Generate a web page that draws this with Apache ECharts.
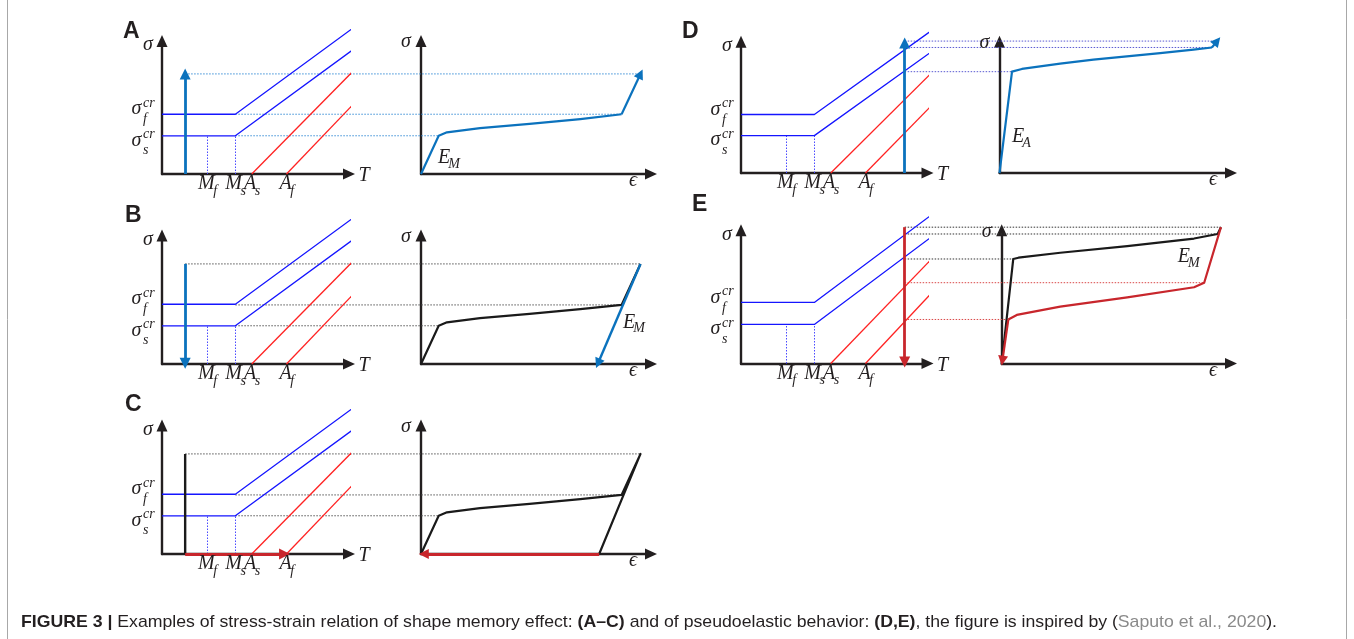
<!DOCTYPE html>
<html>
<head>
<meta charset="utf-8">
<script src="https://cdn.jsdelivr.net/npm/echarts@6.0.0/dist/echarts.min.js"></script>
<style>
html,body{margin:0;padding:0;background:#ffffff;}
#chart{width:1354px;height:639px;}
</style>
</head>
<body>
<div id="chart"></div>
<script>
// ================= DATA (diagram units) =================
// Phase diagram T–σ (same in all five panels)
const PHASE_SIGMA_F = [[0, 4.3], [3.8, 4.3], [9.9, 10.5]];
const PHASE_SIGMA_S = [[0, 2.75], [3.8, 2.75], [9.9, 8.95]];
const PHASE_AS = [[4.65, 0], [9.9, 7.4]];
const PHASE_AF = [[6.45, 0], [9.9, 5.0]];
const T_TICK_VALUES = [2.35, 3.8, 4.65, 6.45];
const T_TICK_LABELS = [['M', 'f'], ['M', 's'], ['A', 's'], ['A', 'f']];
const SIGMA_CR_VALUES = [4.3, 2.75];
const SIGMA_CR_LABELS = ['f', 's'];
const MARTENSITE_DROPS = [2.35, 3.8];

// Panel A
const A_T_PATH = [[1.2, 0], [1.2, 7.2]];
const A_CURVE = [[0, 0], [0.75, 2.75], [1.1, 3.0], [2.5, 3.3], [4.6, 3.6], [6.75, 3.95], [8.5, 4.3]];
const A_CURVE_ARROW = [[8.5, 4.3], [9.3, 7.2]];
const A_GUIDES = [[1.2, 9.3, 7.2], [3.8, 8.5, 4.3], [3.8, 0.75, 2.75]]; // [T from, ε to, σ]
// Panel B
const B_T_PATH = [[1.2, 7.2], [1.2, 0.05]];
const B_CURVE = [[0, 0], [0.75, 2.75], [1.1, 3.0], [2.5, 3.3], [4.6, 3.6], [6.75, 3.95], [8.5, 4.25], [9.3, 7.2]];
const B_CURVE_ARROW = [[9.3, 7.2], [7.5, 0.05]];
const B_GUIDES = [[1.2, 9.3, 7.2], [3.8, 8.5, 4.25], [3.8, 0.75, 2.75]];
// Panel C
const C_T_LINE = [[1.2, 7.2], [1.2, 0]];
const C_T_ARROW = [[1.2, 0], [6.35, 0]];
const C_CURVE = [[0, 0], [0.75, 2.75], [1.1, 3.0], [2.5, 3.3], [4.6, 3.6], [6.75, 3.95], [8.5, 4.25], [9.3, 7.2], [7.55, 0]];
const C_CURVE_ARROW = [[7.55, 0], [0.12, 0]];
const C_GUIDES = [[1.2, 9.3, 7.2], [3.8, 8.5, 4.25], [3.8, 0.75, 2.75]];
// Panel D
const D_T_PATH = [[8.48, 0], [8.48, 9.55]];
const D_CURVE = [[0, 0], [0.53, 7.45], [0.95, 7.65], [2.57, 8.04], [3.98, 8.33], [6.81, 8.82], [8.22, 9.07], [9.0, 9.23]];
const D_CURVE_ARROW = [[9.0, 9.23], [9.22, 9.7]];
const D_GUIDES = [[8.48, 9.3, 9.7], [8.48, 9.05, 9.23], [8.48, 0.53, 7.45]];
// Panel E
const E_T_PATH = [[8.48, 9.6], [8.48, 0.1]];
const E_LOAD = [[0, 0], [0.49, 7.36], [0.71, 7.45], [2.48, 7.8], [5.32, 8.27], [8.15, 8.8], [9.15, 9.12], [9.29, 9.6]];
const E_UNLOAD = [[9.29, 9.6], [8.58, 5.69], [8.15, 5.37], [5.32, 4.66], [2.48, 4.0], [0.64, 3.42], [0.28, 3.1]];
const E_UNLOAD_ARROW = [[0.28, 3.1], [0.03, 0.2]];
const E_GUIDES_BLACK = [[8.48, 9.29, 9.6], [8.48, 9.15, 9.12], [8.48, 0.49, 7.36]];
const E_GUIDES_RED = [[8.48, 8.58, 5.69], [8.48, 0.28, 3.1]];

const PANEL_LETTERS = ['A', 'B', 'C', 'D', 'E'];
const CAPTION_PARTS = [
  ['FIGURE 3 | ', 'b'], ['Examples of stress-strain relation of shape memory effect: ', 'n'],
  ['(A\u2013C)', 'b'], [' and of pseudoelastic behavior: ', 'n'], ['(D,E)', 'b'],
  [', the figure is inspired by (', 'n'], ['Saputo et al., 2020', 'g'], [').', 'n']
];

// ================= LAYOUT / STYLE =================
// oy: x-axis y, top: y-axis arrow tip, lx/rx: y-axis x, lTip/rTip: x-axis arrow tips, sy: px per σ unit
const LAYOUT = [
  {oy: 174, top: 35, lx: 162, lTip: 355, rx: 421, rTip: 657, sy: 13.9},
  {oy: 364, top: 229.5, lx: 162, lTip: 355, rx: 421, rTip: 657, sy: 13.9},
  {oy: 554, top: 419.5, lx: 162, lTip: 355, rx: 421, rTip: 657, sy: 13.9},
  {oy: 173, top: 35.7, lx: 741, lTip: 933.5, rx: 999.5, rTip: 1237, sy: 13.6},
  {oy: 363.5, top: 224.3, lx: 741, lTip: 933.5, rx: 1001.7, rTip: 1237, sy: 14.2}
];
const LETTER_POS = [[123, 31.5], [125, 215.3], [125, 405], [682, 31.7], [692, 205]];
// modulus labels anchored in the right diagram's data space: [row, ε, σ, subscript]
const MODULUS_LABELS = [[0, 0.72, 1.15, 'M'], [1, 8.56, 3.0, 'M'], [3, 0.53, 2.65, 'A'], [4, 7.46, 7.5, 'M']];
const PX_PER_T = 19.3, PX_PER_EPS = 23.6, HALF_ARROW = 6;

const INK = '#231f20';
const BLUE = '#1515ff', RED = '#ff2222', ARROW_BLUE = '#0b72bd', DARK_RED = '#c8262c', BLACK = '#1a1a1a';
const GUIDE_COLORS = ['#3b8fd6', '#555555', '#555555', '#5a5ad2', '#333333'];

const chart = echarts.init(document.getElementById('chart'), null, {renderer: 'canvas'});
const grids = [], xAxes = [], yAxes = [], series = [];

function axisOpt(g, max) {
  return {gridIndex: g, type: 'value', min: 0, max: max,
    axisLine: {show: true, onZero: false, symbol: ['none', 'triangle'], symbolSize: [11, 12], lineStyle: {color: INK, width: 2.4}},
    axisTick: {show: false}, axisLabel: {show: false}, splitLine: {show: false}};
}
LAYOUT.forEach((L, r) => {
  const top = L.top + HALF_ARROW, h = L.oy - top;
  const wl = L.lTip - HALF_ARROW - L.lx, wr = L.rTip - HALF_ARROW - L.rx;
  grids.push({left: L.lx, top: top, width: wl, height: h, outerBoundsMode: 'none'},
             {left: L.rx, top: top, width: wr, height: h, outerBoundsMode: 'none'});
  xAxes.push(axisOpt(2 * r, wl / PX_PER_T), axisOpt(2 * r + 1, wr / PX_PER_EPS));
  yAxes.push(axisOpt(2 * r, h / L.sy), axisOpt(2 * r + 1, h / L.sy));
});

function poly(g, data, color, width, z) {
  return {type: 'line', xAxisIndex: g, yAxisIndex: g, data: data, symbol: 'none', showSymbol: false,
    clip: false, silent: true, animation: false, z: z || 3,
    lineStyle: {color: color, width: width, join: 'round', cap: 'butt'}};
}
function arrow(g, data, color, width, size) {
  return {type: 'lines', coordinateSystem: 'cartesian2d', xAxisIndex: g, yAxisIndex: g,
    data: [{coords: data}], symbol: ['none', 'triangle'], symbolSize: size || [9, 11],
    clip: false, silent: true, animation: false, z: 5,
    lineStyle: {color: color, width: width, opacity: 1, curveness: 0}};
}
function dottedSegs(g, segs, color) {
  return {type: 'lines', coordinateSystem: 'cartesian2d', xAxisIndex: g, yAxisIndex: g,
    data: segs.map(s => ({coords: s})), symbol: 'none', clip: false, silent: true, animation: false, z: 2,
    lineStyle: {color: color, width: 1, opacity: 1, type: [1.5, 1.5]}};
}

// phase diagrams
LAYOUT.forEach((L, r) => {
  const g = 2 * r;
  series.push(poly(g, PHASE_SIGMA_F, BLUE, 1.3), poly(g, PHASE_SIGMA_S, BLUE, 1.3),
              poly(g, PHASE_AS, RED, 1.3), poly(g, PHASE_AF, RED, 1.3));
  series.push(dottedSegs(g, MARTENSITE_DROPS.map(t => [[t, 0], [t, SIGMA_CR_VALUES[1]]]), '#4a4aff'));
});
// Panel A
series.push(arrow(0, A_T_PATH, ARROW_BLUE, 2.8), poly(1, A_CURVE, ARROW_BLUE, 2.2), arrow(1, A_CURVE_ARROW, ARROW_BLUE, 2.2, [8, 10]));
// Panel B
series.push(arrow(2, B_T_PATH, ARROW_BLUE, 2.8), poly(3, B_CURVE, BLACK, 2.2), arrow(3, B_CURVE_ARROW, ARROW_BLUE, 2.4, [8, 10]));
// Panel C
series.push(poly(4, C_T_LINE, BLACK, 2.4), arrow(4, C_T_ARROW, DARK_RED, 2.8), poly(5, C_CURVE, BLACK, 2.2), arrow(5, C_CURVE_ARROW, DARK_RED, 2.8, [8, 10]));
// Panel D
series.push(arrow(6, D_T_PATH, ARROW_BLUE, 2.8), poly(7, D_CURVE, ARROW_BLUE, 2.2), arrow(7, D_CURVE_ARROW, ARROW_BLUE, 2.2, [8, 10]));
// Panel E
series.push(arrow(8, E_T_PATH, DARK_RED, 2.8), poly(9, E_LOAD, BLACK, 2.2), poly(9, E_UNLOAD, DARK_RED, 2.2, 4), arrow(9, E_UNLOAD_ARROW, DARK_RED, 2.2, [8, 10]));

chart.setOption({
  animation: false,
  backgroundColor: '#ffffff',
  grid: grids, xAxis: xAxes, yAxis: yAxes, series: series
});

// ---------- text & cross-diagram guides, positioned through the axes ----------
const mc = document.createElement('canvas').getContext('2d');
function measure(s, f) { mc.font = f; return mc.measureText(s).width; }
const SERIF = "'Liberation Serif','DejaVu Serif',serif";
const F_MAIN = 'italic 20px ' + SERIF, F_SMALL = 'italic 14px ' + SERIF;
const gfx = [];
function put(x, y, s, f, align, color, z) {
  gfx.push({type: 'text', x: x, y: y, z: z || 100, silent: true,
    style: {text: s, font: f, fill: color || INK, align: align || 'left', textAlign: align || 'left',
            verticalAlign: 'middle', textVerticalAlign: 'middle'}});
}
function px(g, p) { return chart.convertToPixel({gridIndex: g}, p); }

LAYOUT.forEach((L, r) => {
  const gl = 2 * r;
  // axis names
  put(L.lx - 14, L.top + 10, '\u03c3', F_MAIN, 'center');
  put(L.lTip + 9, L.oy + 2, 'T', F_MAIN, 'center');
  put(L.rx - 15, L.top + 7, '\u03c3', F_MAIN, 'center');
  put(L.rTip - 24, L.oy + 7, '\u03f5', F_MAIN, 'center');
  // T ticks
  T_TICK_VALUES.forEach((t, i) => {
    const p = px(gl, [t, 0]);
    const m = T_TICK_LABELS[i][0], s = T_TICK_LABELS[i][1];
    const wm = measure(m, F_MAIN), ws = measure(s, F_SMALL);
    const left = p[0] - (wm + ws) / 2 + 1;
    put(left, p[1] + 10, m, F_MAIN);
    put(left + wm - 1.5, p[1] + 17, s, F_SMALL);
  });
  // σ critical labels
  SIGMA_CR_VALUES.forEach((v, i) => {
    const p = px(gl, [0, v]);
    const d = i === 0 ? 0 : 9.5;
    put(p[0] - 25.5, p[1] - 5 + d, '\u03c3', F_MAIN, 'center');
    put(p[0] - 19, p[1] - 11 + d, 'cr', F_SMALL);
    put(p[0] - 19, p[1] + 5.5 + d, SIGMA_CR_LABELS[i], F_SMALL);
  });
  // panel letter
  put(LETTER_POS[r][0], LETTER_POS[r][1], PANEL_LETTERS[r], "bold 23px 'Liberation Sans',Arial,sans-serif");
});
MODULUS_LABELS.forEach(m => {
  const p = px(2 * m[0] + 1, [m[1], m[2]]);
  const we = measure('E', F_MAIN);
  put(p[0], p[1], 'E', F_MAIN);
  put(p[0] + we - 2, p[1] + 6, m[3], F_SMALL);
});
function guides(r, list, color) {
  list.forEach(gd => {
    const a = px(2 * r, [gd[0], gd[2]]), b = px(2 * r + 1, [gd[1], gd[2]]);
    gfx.push({type: 'line', z: 1, silent: true, shape: {x1: a[0], y1: a[1], x2: b[0], y2: a[1]},
      style: {stroke: color, lineWidth: 1, lineDash: [1.5, 1.5]}});
  });
}
guides(0, A_GUIDES, GUIDE_COLORS[0]);
guides(1, B_GUIDES, GUIDE_COLORS[1]);
guides(2, C_GUIDES, GUIDE_COLORS[2]);
guides(3, D_GUIDES, GUIDE_COLORS[3]);
guides(4, E_GUIDES_BLACK, GUIDE_COLORS[4]);
guides(4, E_GUIDES_RED, '#d94848');

// caption (condensed sans imitated by horizontal scaling)
const SANS = "'Liberation Sans',Arial,sans-serif";
const CAP_SIZE = 17;
let capW = 0;
CAPTION_PARTS.forEach(p => { capW += measure(p[0], (p[1] === 'b' ? 'bold ' : '') + CAP_SIZE + 'px ' + SANS); });
const capScale = 1256 / capW;
let cx = 21;
CAPTION_PARTS.forEach(p => {
  const f = (p[1] === 'b' ? 'bold ' : '') + CAP_SIZE + 'px ' + SANS;
  gfx.push({type: 'text', x: cx, y: 622, scaleX: capScale, z: 100, silent: true,
    style: {text: p[0], font: f, fill: p[1] === 'g' ? '#8a8a8a' : INK, align: 'left', textAlign: 'left',
            verticalAlign: 'middle', textVerticalAlign: 'middle'}});
  cx += measure(p[0], f) * capScale;
});
// frame
gfx.push({type: 'line', z: 1, silent: true, shape: {x1: 7.5, y1: 0, x2: 7.5, y2: 639}, style: {stroke: '#a8a8a8', lineWidth: 1}});
gfx.push({type: 'line', z: 1, silent: true, shape: {x1: 1346.5, y1: 0, x2: 1346.5, y2: 639}, style: {stroke: '#a8a8a8', lineWidth: 1}});

chart.setOption({graphic: {elements: gfx}});
</script>
</body>
</html>
